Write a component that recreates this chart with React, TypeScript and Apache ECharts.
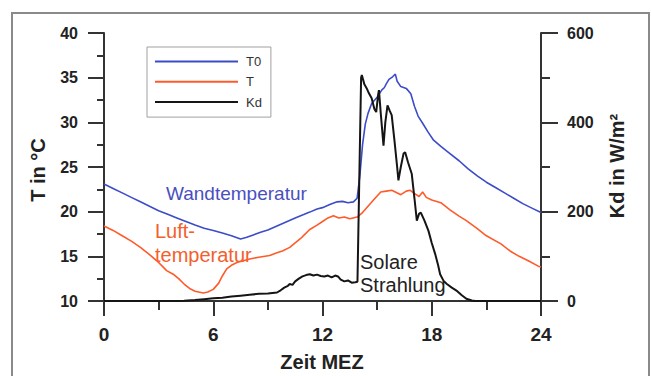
import React, { useEffect, useRef } from "react";
import * as echarts from "echarts";

// Wall temperature T0 (°C)
const t0Hours = [0, 0.5, 1, 1.5, 2, 2.5, 3, 3.5, 4, 4.5, 5, 5.5, 6, 6.5, 7, 7.5, 7.8, 8.2, 8.6, 9, 9.5, 10, 10.5, 11, 11.3, 11.7, 12, 12.4, 12.8, 13.1, 13.4, 13.7, 13.9, 14.05, 14.2, 14.35, 14.5, 14.7, 15, 15.25, 15.4, 15.5, 15.65, 15.85, 16, 16.1, 16.3, 16.6, 16.85, 17.05, 17.25, 17.5, 17.8, 18.1, 18.5, 19, 19.5, 20, 20.5, 21, 21.5, 22, 22.5, 23, 23.5, 24];
const t0Values = [23.1, 22.6, 22.1, 21.6, 21.1, 20.6, 20.1, 19.7, 19.3, 18.9, 18.5, 18.15, 17.9, 17.6, 17.3, 16.95, 17.1, 17.4, 17.7, 17.95, 18.4, 18.85, 19.3, 19.7, 19.95, 20.3, 20.45, 20.8, 21.1, 21.15, 21.0, 21.1, 21.5, 24.0, 27.5, 29.8, 31.0, 32.1, 32.8, 33.6, 33.9, 34.3, 34.8, 35.1, 35.4, 34.6, 34.0, 33.8, 33.2, 31.8, 30.7, 29.9, 28.9, 28.0, 27.3, 26.5, 25.7, 24.8, 24.0, 23.3, 22.7, 22.1, 21.5, 20.9, 20.4, 19.9];

// Air temperature T (°C)
const tHours = [0, 0.5, 1, 1.5, 2, 2.5, 2.9, 3.2, 3.44, 3.8, 4.1, 4.4, 4.7, 5, 5.46, 5.7, 6, 6.3, 6.5, 6.74, 7, 7.3, 7.65, 8, 8.5, 9.1, 9.5, 9.8, 10.2, 10.5, 10.8, 11, 11.3, 11.7, 12, 12.3, 12.6, 12.9, 13.2, 13.5, 13.9, 14.2, 14.5, 14.8, 15.2, 15.5, 15.8, 16, 16.3, 16.6, 16.8, 17, 17.3, 17.5, 17.7, 18, 18.5, 19, 19.5, 19.9, 20.5, 21, 21.8, 22.3, 22.8, 23.3, 23.85, 24];
const tValues = [18.4, 17.9, 17.3, 16.7, 16.0, 15.2, 14.5, 13.9, 13.4, 13.0, 12.5, 11.9, 11.4, 11.1, 10.9, 11.0, 11.3, 12.0, 12.8, 13.6, 14.0, 14.3, 14.5, 14.7, 14.9, 15.1, 15.4, 15.6, 16.0, 16.5, 17.0, 17.4, 18.0, 18.5, 18.9, 19.3, 19.55, 19.3, 19.4, 19.2, 19.4, 19.9, 20.6, 21.3, 22.2, 22.3, 22.4, 22.2, 21.9, 22.3, 22.4, 22.1, 21.7, 22.2, 21.6, 21.3, 21.0, 20.2, 19.5, 19.0, 18.1, 17.3, 16.4, 15.6, 15.0, 14.5, 13.9, 13.8];

// Solar radiation Kd (W/m²)
const kdHours = [0, 4, 4.4, 5, 5.5, 6, 6.5, 7, 7.5, 8, 8.5, 9, 9.5, 9.7, 9.9, 10.1, 10.2, 10.35, 10.5, 10.7, 10.9, 11.1, 11.3, 11.5, 11.7, 11.9, 12.1, 12.3, 12.5, 12.7, 12.85, 13, 13.2, 13.4, 13.6, 13.8, 13.92, 14.12, 14.16, 14.3, 14.43, 14.55, 14.7, 14.85, 14.95, 15.05, 15.1, 15.2, 15.35, 15.45, 15.57, 15.7, 15.8, 15.95, 16.1, 16.17, 16.3, 16.45, 16.54, 16.7, 16.9, 17.05, 17.18, 17.3, 17.4, 17.6, 17.82, 18, 18.19, 18.35, 18.46, 18.65, 18.83, 19.1, 19.4, 19.65, 19.9, 20.2, 20.4, 24];
const kdValues = [0, 0, 0.5, 2, 4, 6, 7.5, 10, 12, 14, 16, 17, 19, 24, 30, 34, 38, 36, 44, 50, 55, 58, 60, 57, 59, 56, 55, 57, 53, 57, 55, 48, 44, 46, 41, 42, 43, 500, 506, 485, 476, 465, 454, 430, 423, 460, 472, 420, 348, 400, 438, 425, 416, 360, 300, 270, 300, 330, 333, 310, 285, 230, 180, 195, 198, 180, 157, 130, 105, 80, 60, 45, 38, 30, 22, 13, 5, 1, 0, 0];

const xTicks = { min: 0, max: 24, interval: 6 };
const leftTicks = { min: 10, max: 40, interval: 5 };
const rightTicks = { min: 0, max: 600, interval: 200 };

const seriesNames = ["T0", "T", "Kd"];
const seriesColors = ["#3c4cc8", "#ff5a2a", "#151515"];

const annotations = [
  { text: "Wandtemperatur", x: 166, y: 193, color: "#4a4fc0", size: 19 },
  { text: "Luft-", x: 155, y: 231, color: "#f3602c", size: 20 },
  { text: "temperatur", x: 155, y: 255, color: "#f3602c", size: 20 },
  { text: "Solare", x: 360, y: 262, color: "#222", size: 20 },
  { text: "Strahlung", x: 360, y: 285, color: "#222", size: 20 },
];

const FONT = "'Liberation Sans', Arial, Helvetica, sans-serif";

const zip = (xs: number[], ys: number[]) => xs.map((x, i) => [x, ys[i]]);

export default function App() {
  const ref = useRef<HTMLDivElement>(null);
  useEffect(() => {
    if (!ref.current) return;
    const chart = echarts.init(ref.current, null, { renderer: "svg" });
    const axisLineStyle = { color: "#333", width: 2 };
    chart.setOption({
      animation: false,
      backgroundColor: "#fff",
      grid: { left: 104, right: 110, top: 33, bottom: 75, containLabel: false },
      legend: {
        orient: "vertical",
        left: 147,
        top: 47,
        data: seriesNames,
        icon: "rect",
        itemWidth: 83,
        itemHeight: 2,
        itemGap: 6.3,
        padding: [7.5, 9, 8, 8],
        borderColor: "#a0a0a0",
        borderWidth: 1,
        textStyle: { fontFamily: FONT, fontSize: 13, color: "#333", lineHeight: 14, padding: [0, 0, 0, 3] },
      },
      xAxis: {
        type: "value",
        min: xTicks.min,
        max: xTicks.max,
        interval: xTicks.interval,
        axisLine: { show: true, onZero: false, lineStyle: axisLineStyle },
        axisTick: { show: true, length: 15, lineStyle: axisLineStyle },
        minorTick: { show: true, splitNumber: 2, length: 9, lineStyle: axisLineStyle },
        splitLine: { show: false },
        minorSplitLine: { show: false },
        axisLabel: { margin: 24, fontFamily: FONT, fontWeight: "bold", fontSize: 19, color: "#222" },
      },
      yAxis: [
        {
          type: "value",
          position: "left",
          min: leftTicks.min,
          max: leftTicks.max,
          interval: leftTicks.interval,
          axisLine: { show: true, onZero: false, lineStyle: axisLineStyle },
          axisTick: { show: true, length: 16, lineStyle: axisLineStyle },
          minorTick: { show: true, splitNumber: 2, length: 7, lineStyle: axisLineStyle },
          splitLine: { show: false },
          minorSplitLine: { show: false },
          axisLabel: { margin: 26, fontFamily: FONT, fontWeight: "bold", fontSize: 16, color: "#222" },
        },
        {
          type: "value",
          position: "right",
          min: rightTicks.min,
          max: rightTicks.max,
          interval: rightTicks.interval,
          axisLine: { show: true, onZero: false, lineStyle: axisLineStyle },
          axisTick: { show: true, length: 17, lineStyle: axisLineStyle },
          minorTick: { show: true, splitNumber: 2, length: 9, lineStyle: axisLineStyle },
          splitLine: { show: false },
          minorSplitLine: { show: false },
          axisLabel: { margin: 26, fontFamily: FONT, fontWeight: "bold", fontSize: 16, color: "#222" },
        },
      ],
      series: [
        {
          name: seriesNames[0],
          type: "line",
          yAxisIndex: 0,
          data: zip(t0Hours, t0Values),
          symbol: "none",
          color: seriesColors[0],
          lineStyle: { width: 1.6, color: seriesColors[0] },
        },
        {
          name: seriesNames[1],
          type: "line",
          yAxisIndex: 0,
          data: zip(tHours, tValues),
          symbol: "none",
          color: seriesColors[1],
          lineStyle: { width: 1.6, color: seriesColors[1] },
        },
        {
          name: seriesNames[2],
          type: "line",
          yAxisIndex: 1,
          data: zip(kdHours, kdValues),
          symbol: "none",
          color: seriesColors[2],
          lineStyle: { width: 2, color: seriesColors[2] },
        },
      ],
      graphic: [
        {
          type: "rect",
          shape: { x: 12, y: 13, width: 637, height: 400 },
          style: { fill: "none", stroke: "#8a8a8a", lineWidth: 2 },
          silent: true,
          z: -1,
        },
        {
          type: "text",
          x: 38,
          y: 170,
          rotation: Math.PI / 2,
          style: { text: "T in °C", font: `bold 20px ${FONT}`, fill: "#222", align: "center", verticalAlign: "middle" },
        },
        {
          type: "text",
          x: 617,
          y: 166,
          rotation: Math.PI / 2,
          style: { text: "Kd in W/m²", font: `bold 20px ${FONT}`, fill: "#222", align: "center", verticalAlign: "middle" },
        },
        {
          type: "text",
          x: 322,
          y: 362,
          style: { text: "Zeit MEZ", font: `bold 20px ${FONT}`, fill: "#222", align: "center", verticalAlign: "middle" },
        },
        ...annotations.map((a) => ({
          type: "text",
          x: a.x,
          y: a.y,
          style: { text: a.text, font: `${a.size}px ${FONT}`, fill: a.color, align: "left", verticalAlign: "middle" },
        })),
      ],
    });
    return () => chart.dispose();
  }, []);
  return (
    <div
      ref={ref}
      style={{ position: "absolute", left: 0, top: 0, width: 651, height: 376, background: "#fff" }}
    />
  );
}
